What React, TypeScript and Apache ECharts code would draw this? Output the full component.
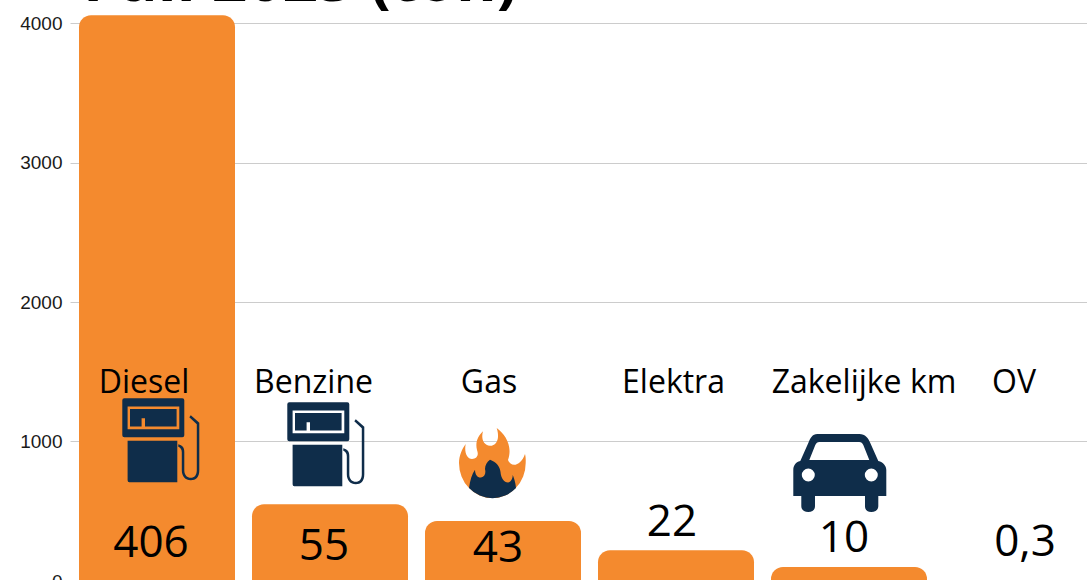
import React, { useEffect, useRef } from "react";
import * as echarts from "echarts";

const categories = ["Diesel", "Benzine", "Gas", "Elektra", "Zakelijke km", "OV"];
const values = [4060, 550, 430, 220, 100, 3];
const valueLabels = ["406", "55", "43", "22", "10", "0,3"];
const yTicks = [0, 1000, 2000, 3000, 4000];
const titleText = "Full 2023 (ton)";

const labelOffsetX = [-6, -6, -5, -4, -5, 3];
const labelOffsetY = [-41, -38, -36, -62, -46, -42];
const headerX = [144, 313.5, 489, 673.5, 864, 1014];

const pumpPath =
  "M2 0H60Q62 0 62 2V37Q62 39 60 39H2Q0 39 0 37V2Q0 0 2 0Z" +
  "M5.3 8.3V31H57V8.3Z" +
  "M7.7 10.6H54.3V28.3H22.7V20H19.3V28.3H7.7Z" +
  "M5.3 42.5H55V84H7Q5.3 84 5.3 82Z" +
  "M56 46C60 47 62 49 62 54V72C62 77 65 79.5 68.5 79.5C72 79.5 74.5 77 74.5 72V26L67 19L68.5 17L77 24.5V72C77 79 73.5 82 68.5 82C63 82 59.5 78 59.5 72V54C59.5 51 58 49.5 56 48.5Z";
const carPath =
  "M24 0H66C72 0 75 4 77 9L85 27C90 28 93 32 93 36V62H85V72C85 76 82 78 78 78C74 78 71.7 76 71.7 72V62H21.7V72C21.7 76 19 78 15 78C11 78 8 76 8 72V62H0V36C0 32 2 28 7 27L15 9C17 4 19 0 24 0Z" +
  "M26 8C24 8 23 9 22 11L16 26H76L70 11C69 9 68 8 66 8Z" +
  "M15 34.5A6.5 6.5 0 1 0 15 47.5A6.5 6.5 0 1 0 15 34.5Z" +
  "M78 34.5A6.5 6.5 0 1 0 78 47.5A6.5 6.5 0 1 0 78 34.5Z";
const flamePath =
  "M37.7 0C46 6 54 18 49 32C52 40 62 38 66 26C67 30 66.7 33 66.7 35A33.3 35 0 0 1 0 35C0 28 3 21 6.7 16C5 24 8 31 13 31C18 31 20 27 18 22C16 14 19 8 24 3.3C22 10 24 17 31 17.7C38 17.7 41 10 37.7 0Z";
const innerFlamePath =
  "M10 60C11 52 13 46 16 41.7C16 47 19 50 22 49.5C26 49 27 45 26 41C26 37 28 34 31 31.7C37 34 41 38 41.5 44C42 50 45 54.5 49 54.5C52 54.5 54 50 53.7 46.7C55 50 56.5 54 57 60A33.3 35 0 0 1 10 60Z";

echarts.graphic.registerShape("pump", echarts.graphic.extendPath(pumpPath, {}));
echarts.graphic.registerShape("car", echarts.graphic.extendPath(carPath, {}));
echarts.graphic.registerShape("flame", echarts.graphic.extendPath(flamePath, {}));
echarts.graphic.registerShape("innerFlame", echarts.graphic.extendPath(innerFlamePath, {}));

export default function App() {
  const ref = useRef<HTMLDivElement>(null);
  useEffect(() => {
    document.body.style.margin = "0";
    const chart = echarts.init(ref.current!, null, { renderer: "svg" });
    const text = (t: string, x: number) => ({
      type: "text",
      x,
      y: 380,
      z: 10,
      style: {
        text: t,
        fill: "#000",
        font: "32px 'Open Sans'",
        textAlign: "center",
        textVerticalAlign: "middle",
      },
    });
    chart.setOption({
      animation: false,
      title: {
        text: titleText,
        left: 78,
        top: -59,
        textStyle: { fontFamily: "Open Sans", fontSize: 62, fontWeight: "bold", color: "#000", lineHeight: 62 },
      },
      grid: { left: 70.5, top: 23.5, width: 1038, height: 557.5, containLabel: false, outerBoundsMode: "none" },
      xAxis: {
        type: "category",
        data: categories,
        axisLine: { show: false },
        axisTick: { show: false },
        axisLabel: { show: false },
      },
      yAxis: {
        type: "value",
        min: yTicks[0],
        max: yTicks[yTicks.length - 1],
        interval: 1000,
        axisLine: { show: false },
        axisTick: { show: false },
        axisLabel: {
          fontFamily: "Liberation Sans",
          fontSize: 19,
          color: "#1a1a1a",
          margin: 8,
          formatter: (v: number) => String(v),
        },
        splitLine: { lineStyle: { color: "#cccccc", width: 1 } },
      },
      series: [
        {
          type: "bar",
          data: values,
          barWidth: 156,
          clip: false,
          itemStyle: { color: "#f48a2e", borderRadius: [12, 12, 0, 0] },
        },
        {
          type: "scatter",
          symbolSize: 0,
          silent: true,
          itemStyle: { opacity: 1 },
          data: values.map((_, i) => ({
            value: [categories[i], 0],
            label: {
              show: true,
              position: "inside",
              offset: [labelOffsetX[i], labelOffsetY[i]],
              formatter: valueLabels[i],
              fontFamily: "Open Sans",
              fontSize: 44,
              color: "#000",
            },
          })),
          z: 5,
        },
      ],
      graphic: [
        ...categories.map((c, i) => text(c, headerX[i])),
        { type: "pump", x: 122.3, y: 398.3, z: 9, style: { fill: "#0f2d4a" } },
        { type: "pump", x: 287.3, y: 402.3, z: 9, style: { fill: "#0f2d4a" } },
        { type: "flame", x: 459, y: 428, z: 9, style: { fill: "#f48a2e" } },
        { type: "innerFlame", x: 459, y: 428, z: 10, style: { fill: "#0f2d4a" } },
        { type: "car", x: 793.3, y: 434, z: 9, style: { fill: "#0f2d4a" } },
      ],
    });
    return () => chart.dispose();
  }, []);
  return <div ref={ref} style={{ width: 1087, height: 580, overflow: "hidden" }} />;
}
